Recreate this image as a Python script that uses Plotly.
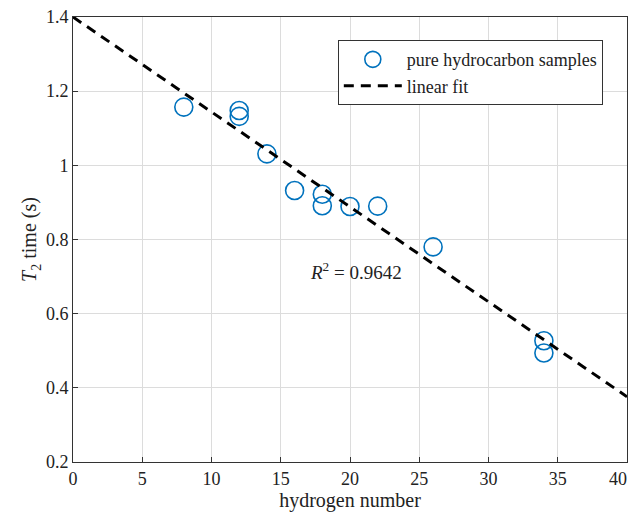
import plotly.graph_objects as go

hydrogen = [8, 12, 12, 14, 16, 18, 18, 20, 22, 26, 34, 34]
t2_time = [1.157, 1.148, 1.132, 1.031, 0.932, 0.922, 0.891, 0.889, 0.89, 0.78, 0.527, 0.494]
fit_x = [0, 40]
fit_intercept = 1.4
fit_slope = -0.0256
fit_y = [fit_intercept + fit_slope * x for x in fit_x]
x_ticks = [0, 5, 10, 15, 20, 25, 30, 35, 40]
# last label padded with non-breaking spaces so it stays inside the window
x_tick_labels = ["0", "5", "10", "15", "20", "25", "30", "35", "40\u00a0\u00a0\u00a0\u00a0"]
y_ticks = [0.2, 0.4, 0.6, 0.8, 1.0, 1.2, 1.4]
y_tick_labels = ["0.2", "0.4", "0.6", "0.8", "1", "1.2", "1.4"]

font = "Liberation Serif, Times New Roman, serif"

fig = go.Figure()
fig.add_trace(go.Scatter(
    x=hydrogen, y=t2_time, mode="markers", name="pure hydrocarbon samples",
    marker=dict(symbol="circle-open", size=18, color="#0072BD", line=dict(width=1.6, color="#0072BD")),
))
fig.add_trace(go.Scatter(
    x=fit_x, y=fit_y, mode="lines", name="linear fit",
    line=dict(color="black", width=3, dash="10px,7px"),
))

fig.add_annotation(x=17.0, y=0.716, xref="x", yref="y", xanchor="left", yanchor="middle",
                   text="<i>R</i><sup>2</sup> = 0.9642", showarrow=False,
                   font=dict(family=font, size=19, color="#222"))

axis_common = dict(
    showline=True, linecolor="#333", linewidth=1, mirror=True,
    ticks="inside", ticklen=5, tickcolor="#333",
    showgrid=True, gridcolor="#dcdcdc", gridwidth=1, zeroline=False,
    tickfont=dict(family=font, size=18, color="#222"),
    automargin=False, ticklabeloverflow="allow",
)

fig.update_xaxes(range=[0, 40], tickvals=x_ticks, ticktext=x_tick_labels,
                 title=dict(text="hydrogen number", font=dict(family=font, size=20, color="#222"), standoff=2),
                 **axis_common)
fig.update_yaxes(range=[0.2, 1.4], tickvals=y_ticks, ticktext=y_tick_labels,
                 title=dict(text="<i>T</i><sub>2</sub> time (s)", font=dict(family=font, size=20, color="#222"), standoff=3),
                 **axis_common)

fig.update_layout(
    width=628, height=505,
    margin=dict(l=65, r=9, t=9, b=51),
    plot_bgcolor="white", paper_bgcolor="white",
    showlegend=True,
    legend=dict(x=0.478, y=0.948, xanchor="left", yanchor="top",
                bgcolor="white", bordercolor="#333", borderwidth=1,
                font=dict(family=font, size=18, color="#222"),
                itemwidth=58, tracegroupgap=0),
)

fig.write_html("out.html")
